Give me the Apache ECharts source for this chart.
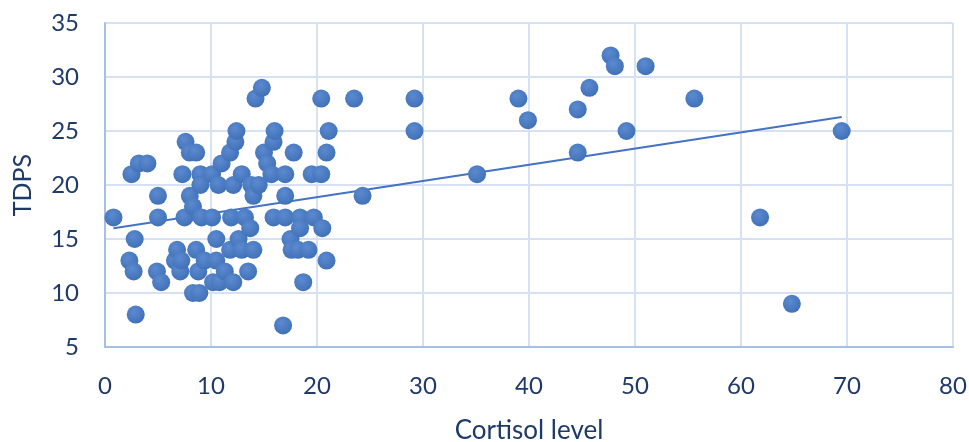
<!DOCTYPE html>
<html>
<head>
<meta charset="utf-8">
<script src="https://cdn.jsdelivr.net/npm/echarts@6/dist/echarts.min.js"></script>
<style>html,body{margin:0;padding:0;background:#fff}#c{width:969px;height:442px}</style>
</head>
<body>
<div id="c"></div>
<script>
const cortisol = [
  0.8,2.3,2.5,2.7,2.8,2.9,3.2,4.0,4.9,5.0,5.0,5.3,6.6,6.8,7.1,7.2,7.3,7.5,7.6,8.0,
  8.0,8.6,8.3,8.6,8.3,8.8,8.9,9.0,9.0,9.1,9.4,10.1,10.1,10.5,10.5,10.2,10.7,11.0,10.8,11.3,
  11.8,11.8,11.9,12.1,12.1,12.3,12.4,12.6,12.9,12.9,13.2,13.5,13.7,13.8,14.0,14.0,14.2,14.5,14.8,15.0,
  15.3,15.7,15.9,16.0,15.9,16.8,17.0,17.0,17.0,17.5,17.6,17.8,18.2,18.4,18.4,18.7,19.2,19.5,19.7,20.4,
  20.4,20.5,20.9,20.9,21.1,
  23.5,24.3,29.2,29.2,35.1,39.0,39.9,44.6,44.6,45.7,47.7,48.1,49.2,51.0,55.6,61.8,64.8,69.5
];
const tdps = [
  17,13,21,12,15,8,22,22,12,19,17,11,13,14,12,13,21,17,24,19,
  23,23,18,14,10,12,10,21,20,17,13,21,17,15,13,11,20,22,11,12,
  23,14,17,20,11,24,25,15,21,14,17,12,16,20,19,14,28,20,29,23,
  22,21,24,25,17,7,21,19,17,15,14,23,14,17,16,11,14,21,17,28,
  21,16,23,13,25,
  28,19,28,25,21,28,26,27,23,29,32,31,25,31,28,17,9,25
];
const trendX = [0.8, 69.5];
const trendY = [16.0, 26.3];
const xTicks = [0,10,20,30,40,50,60,70,80];
const yTicks = [5,10,15,20,25,30,35];

const pts = cortisol.map((x,i)=>[x,tdps[i]]);
const trend = trendX.map((x,i)=>[x,trendY[i]]);
const labelColor = '#1f3a68';
const font = 'Lato, "Open Sans", sans-serif';
const chart = echarts.init(document.getElementById('c'));
chart.setOption({
  animation:false,
  grid:{left:105,right:16,top:23,bottom:95,containLabel:false,outerBoundsMode:'none'},
  xAxis:{type:'value',min:xTicks[0],max:xTicks[xTicks.length-1],interval:10,
    name:'Cortisol level',nameLocation:'middle',nameGap:71,
    nameTextStyle:{color:labelColor,fontSize:26,fontFamily:font},
    axisLine:{show:true,lineStyle:{color:'#a7bfe3',width:2}},
    axisTick:{show:false},
    axisLabel:{color:labelColor,fontSize:24,fontFamily:font,margin:27},
    splitLine:{show:true,lineStyle:{color:'#d6e2f3',width:2}}},
  yAxis:{type:'value',min:yTicks[0],max:yTicks[yTicks.length-1],interval:5,
    name:'TDPS',nameLocation:'middle',nameGap:70,
    nameTextStyle:{color:labelColor,fontSize:25,fontFamily:font},
    axisLine:{show:true,lineStyle:{color:'#a7bfe3',width:2}},
    axisTick:{show:false},
    axisLabel:{color:labelColor,fontSize:24,fontFamily:font,margin:26},
    splitLine:{show:true,lineStyle:{color:'#d6e2f3',width:2}}},
  series:[
    {type:'scatter',data:pts,symbol:'circle',symbolSize:18,
      itemStyle:{color:{type:'radial',x:0.4,y:0.35,r:0.7,colorStops:[{offset:0,color:'#5b8ad0'},{offset:1,color:'#3f6fb5'}]},
        opacity:1}},
    {type:'line',data:trend,symbol:'none',lineStyle:{color:'#4472c4',width:2},z:1}
  ]
});
</script>
</body>
</html>
